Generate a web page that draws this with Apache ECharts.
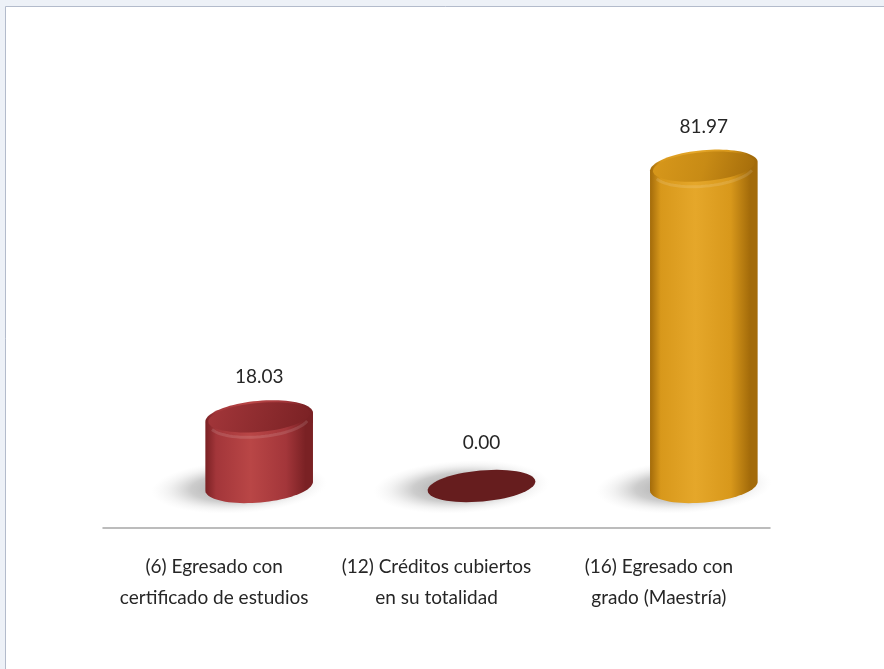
<!DOCTYPE html>
<html><head><meta charset="utf-8">
<script src="https://cdn.jsdelivr.net/npm/echarts@6/dist/echarts.min.js"></script>
<style>html,body{margin:0;padding:0;background:#edf1f7}#c{width:884px;height:669px}</style>
</head><body><div id="c"></div>
<script>
const categories = ['(6) Egresado con\ncertificado de estudios', '(12) Créditos cubiertos\nen su totalidad', '(16) Egresado con\ngrado (Maestría)'];
const values = [18.03, 0.00, 81.97];
const valueLabels = ['18.03', '0.00', '81.97'];

const palettes = [
  {dark:'#7a2124', mid:'#a3363a', light:'#b94646', top:'#8e2c2f', flat:'#661d1e'},
  {dark:'#7a2124', mid:'#a3363a', light:'#b94646', top:'#8e2c2f', flat:'#661d1e'},
  {dark:'#a36b0a', mid:'#d8981b', light:'#e5a72a', top:'#c88b15', flat:'#8a5a08'}
];
const FONT = 'Lato, "Open Sans", sans-serif';
const DX = 45, DY = 40, TH = -0.09;

function ellipsePts(cx, cy, rx, ry, t0, t1, n) {
  const pts = [];
  for (let k = 0; k <= n; k++) {
    const t = t0 + (t1 - t0) * k / n;
    const ex = rx * Math.cos(t), ey = ry * Math.sin(t);
    pts.push([cx + ex * Math.cos(TH) - ey * Math.sin(TH), cy + ex * Math.sin(TH) + ey * Math.cos(TH)]);
  }
  return pts;
}

function renderItem(params, api) {
  const i = params.dataIndex;
  const v = api.value(1);
  const base = api.coord([i, 0]);
  const top = api.coord([i, v]);
  const bw = api.size([1, 0])[0];
  const rx = bw * 0.243, ry = 16.5;
  const cx = base[0] + DX;
  const yb = base[1] - DY - 2;
  const yt = top[1] - DY;
  const p = palettes[i];
  const children = [];
  const sx = cx - 20, sy = yb + 1, sr = rx + 34;
  children.push({type:'circle', shape:{cx:sx, cy:sy, r:sr}, scaleY:0.3, rotation:-TH * 0.6, originX:sx, originY:sy,
    style:{fill: new echarts.graphic.RadialGradient(0.5, 0.5, 0.5, [
      {offset:0, color:'rgba(70,70,70,0.55)'}, {offset:0.55, color:'rgba(110,110,110,0.35)'},
      {offset:0.8, color:'rgba(150,150,150,0.12)'}, {offset:1, color:'rgba(200,200,200,0)'}])}, silent:true});
  if (yb - yt > 1) {
    const upper = ellipsePts(cx, yt, rx, ry, Math.PI, 2 * Math.PI, 40);
    const bodyPts = ellipsePts(cx, yb, rx, ry, 0, Math.PI, 40).concat(upper);
    children.push({type:'polygon', shape:{points: bodyPts}, style:{
      fill: new echarts.graphic.LinearGradient(0, 0, 1, 0, [
        {offset:0, color:p.dark}, {offset:0.1, color:p.mid}, {offset:0.42, color:p.light},
        {offset:0.75, color:p.mid}, {offset:0.93, color:p.dark}, {offset:1, color:p.dark}])}});
    children.push({type:'polyline', shape:{points: ellipsePts(cx, yt + 3, rx - 4, ry, 0.3, Math.PI - 0.3, 30)},
      style:{stroke:'rgba(255,255,255,0.12)', lineWidth:3, fill:null}});
    children.push({type:'polygon', shape:{points: ellipsePts(cx, yt, rx - 3, ry - 2, 0, Math.PI * 2, 60)}, style:{
      fill: new echarts.graphic.LinearGradient(0, 0, 1, 1, [
        {offset:0, color:p.mid}, {offset:0.5, color:p.top}, {offset:1, color:p.dark}])}});
  } else {
    children.push({type:'polygon', shape:{points: ellipsePts(cx, yb, rx, ry - 1, 0, Math.PI * 2, 60)}, style:{fill:p.flat}});
  }
  const labelOff = (yb - yt > 1) ? 40 : 45;
  children.push({type:'text', style:{text: valueLabels[i], x: cx, y: yt - labelOff, align:'center', verticalAlign:'middle',
    font: '19px ' + FONT, fill:'#262626'}});
  return {type:'group', children};
}

const chart = echarts.init(document.getElementById('c'), null, {renderer:'canvas'});
chart.setOption({
  animation:false,
  backgroundColor:'#edf1f7',
  graphic:[{type:'rect', shape:{x:5.5, y:6.5, width:900, height:700}, style:{fill:'#ffffff', stroke:'#b3bbcb', lineWidth:1}, z:-10}],
  grid:{left:103, right:114, top:136, bottom:141},
  xAxis:{type:'category', data:categories,
    axisLine:{lineStyle:{color:'#a6a6a6', width:1.5}}, axisTick:{show:false},
    axisLabel:{margin:23, fontSize:19, fontFamily:FONT, color:'#262626', lineHeight:31, interval:0}},
  yAxis:{type:'value', min:0, max:100, show:false, splitLine:{show:false}},
  series:[{type:'custom', renderItem, data: values.map((v, i) => [i, v]), clip:false}]
});
</script></body></html>
